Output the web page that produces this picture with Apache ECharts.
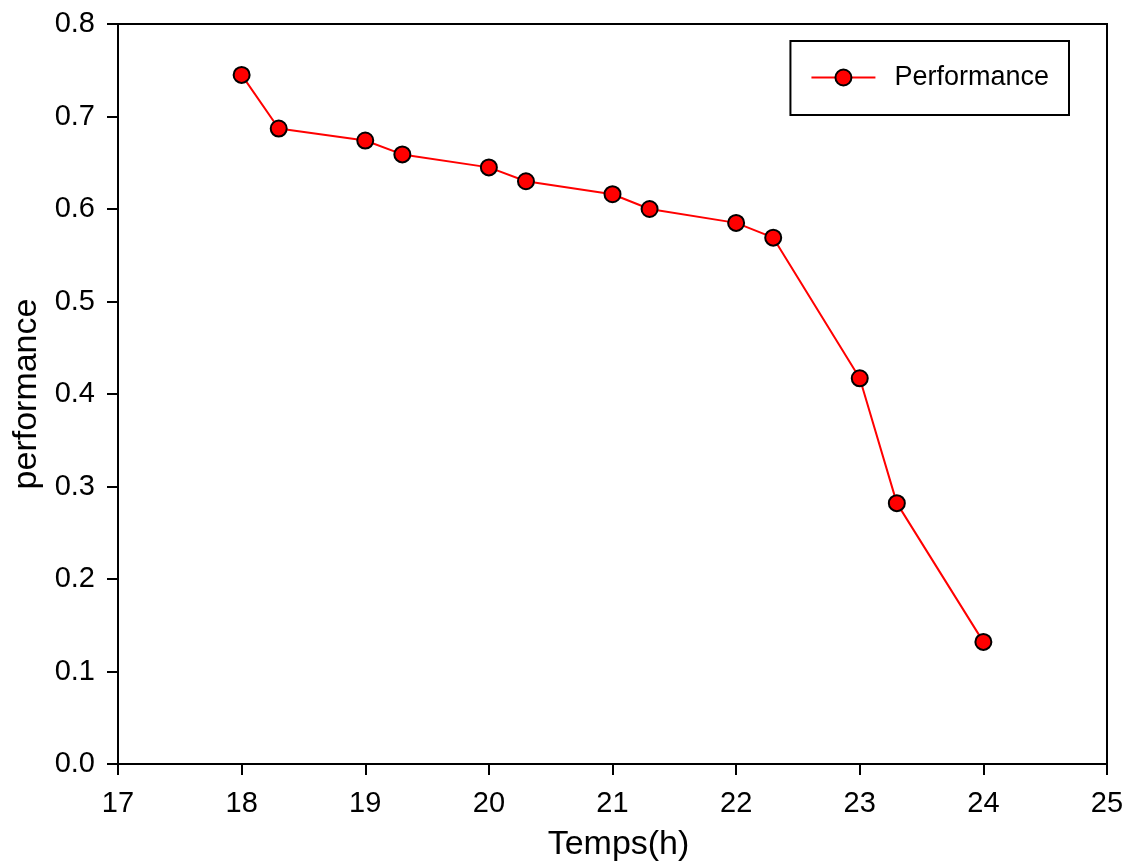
<!DOCTYPE html>
<html>
<head>
<meta charset="utf-8">
<script src="https://cdn.jsdelivr.net/npm/echarts@6/dist/echarts.min.js"></script>
<style>html,body{margin:0;padding:0;background:#fff;}#c{width:1131px;height:864px;}</style>
</head>
<body>
<div id="c"></div>
<script>
const timesH = [18, 18.3, 19, 19.3, 20, 20.3, 21, 21.3, 22, 22.3, 23, 23.3, 24];
const performance = [0.745, 0.687, 0.674, 0.659, 0.645, 0.630, 0.616, 0.600, 0.585, 0.569, 0.417, 0.282, 0.132];
const seriesName = 'Performance';
const xTitle = 'Temps(h)';
const yTitle = 'performance';

const chart = echarts.init(document.getElementById('c'));
const font = 'Liberation Sans, Arial, sans-serif';
chart.setOption({
  animation: false,
  backgroundColor: '#fff',
  grid: { left: 118, right: 24, top: 24, bottom: 100, containLabel: false, outerBoundsMode: 'none', show: true, borderColor: '#000', borderWidth: 2 },
  legend: {
    right: 62, top: 41,
    data: [seriesName],
    backgroundColor: '#fff',
    borderColor: '#000', borderWidth: 2,
    padding: [23, 20, 24, 20],
    itemWidth: 64, itemHeight: 20, itemGap: 0,
    lineStyle: { width: 2 },
    textStyle: { fontFamily: font, fontSize: 27, color: '#000', padding: [0, 0, 0, 14] }
  },
  xAxis: {
    type: 'value', min: 17, max: 25, interval: 1,
    name: xTitle, nameLocation: 'middle', nameGap: 64,
    nameTextStyle: { fontFamily: font, fontSize: 34, color: '#000', padding: [0, 0, 0, 12] },
    axisLine: { show: true, lineStyle: { color: '#000', width: 2 } },
    axisTick: { show: true, inside: false, length: 11, lineStyle: { color: '#000', width: 2 } },
    axisLabel: { fontFamily: font, fontSize: 29, color: '#000', margin: 25 },
    splitLine: { show: false }
  },
  yAxis: {
    type: 'value', min: 0, max: 0.8, interval: 0.1,
    name: yTitle, nameLocation: 'middle', nameGap: 73, nameRotate: 90,
    nameTextStyle: { fontFamily: font, fontSize: 34, color: '#000' },
    axisLine: { show: true, lineStyle: { color: '#000', width: 2 } },
    axisTick: { show: true, inside: false, length: 11, lineStyle: { color: '#000', width: 2 } },
    axisLabel: { fontFamily: font, fontSize: 29, color: '#000', margin: 23, formatter: v => v.toFixed(1) },
    splitLine: { show: false }
  },
  series: [{
    name: seriesName,
    type: 'line',
    data: timesH.map((t, i) => [t, performance[i]]),
    symbol: 'circle', symbolSize: 16,
    lineStyle: { color: '#ff0000', width: 2 },
    itemStyle: { color: '#ff0000', borderColor: '#000', borderWidth: 2 }
  }]
});
</script>
</body>
</html>
